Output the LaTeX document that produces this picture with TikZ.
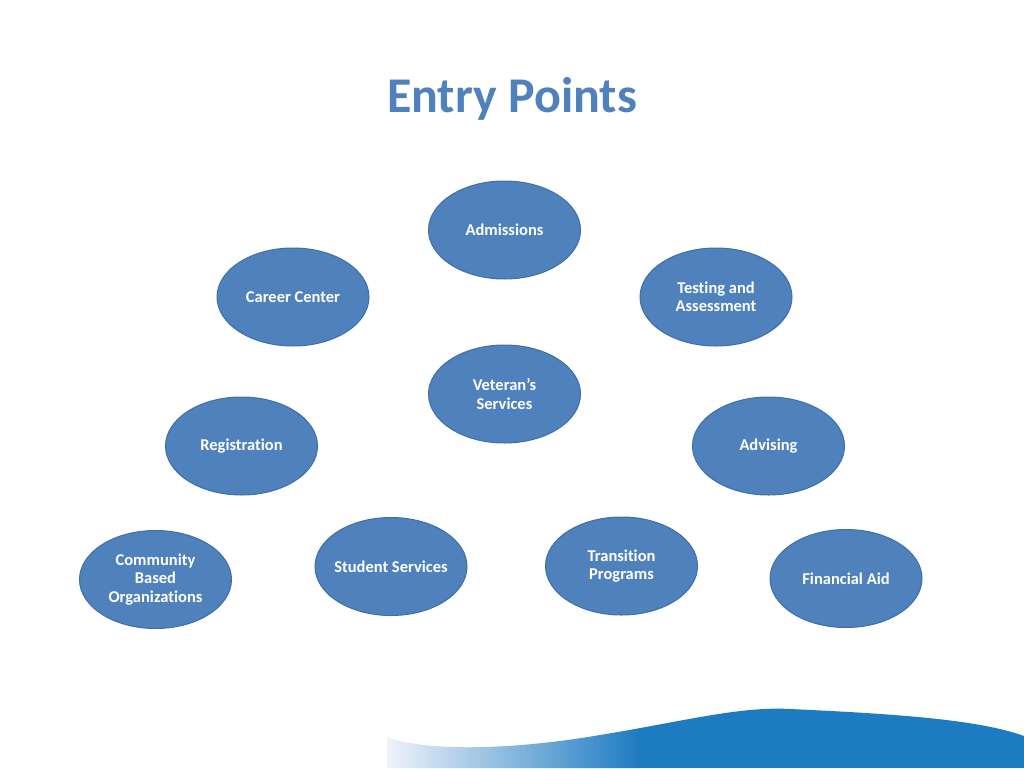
\documentclass[tikz,border=0pt]{standalone}
\usepackage{fontspec}
\setmainfont[Ligatures={NoCommon}]{Carlito}
\usetikzlibrary{shapes.geometric}
\begin{document}
\begin{tikzpicture}[x=1pt,y=-1pt,
  bubble/.style={ellipse, fill=bubblefill, draw=bubbleline, line width=1pt,
    minimum width=152pt, minimum height=98pt, inner xsep=-6pt, inner ysep=0pt,
    text=white, font=\fontsize{16.5}{18.5}\selectfont\bfseries, align=center}]
\definecolor{bubblefill}{HTML}{4F81BD}
\definecolor{bubbleline}{HTML}{3F6FA8}
\definecolor{titleblue}{HTML}{4F81BD}
\definecolor{swoosh}{HTML}{1D7BC1}
\definecolor{swooshlight}{HTML}{EEF2FA}
\useasboundingbox (0,0) rectangle (1024,768);
\fill[white] (0,0) rectangle (1024,768);
% swoosh
\begin{scope}
  \clip (387,737) .. controls (420,750) and (500,752) .. (600,735)
        .. controls (680,722) and (740,706) .. (790,709)
        .. controls (900,714) and (980,720) .. (1024,736)
        -- (1024,768) -- (387,768) -- cycle;
  \shade[left color=swooshlight, right color=swoosh] (387,700) rectangle (640,768);
  \fill[swoosh] (639,700) rectangle (1024,768);
\end{scope}
% title
\node[text=titleblue, font=\fontsize{50}{60}\selectfont\bfseries] (title) at (512,99) {Entry Points};
% bubbles
\node[bubble] (adm) at (504.5,230) {Admissions};
\node[bubble] (career) at (293,297) {Career Center};
\node[bubble] (test) at (716,297) {Testing and\\Assessment};
\node[bubble] (vet) at (504.5,394) {Veteran’s\\Services};
\node[bubble] (reg) at (241.5,446) {Registration};
\node[bubble] (adv) at (768.5,446) {Advising};
\node[bubble] (cbo) at (155.5,579.5) {Community\\Based\\Organizations};
\node[bubble] (stud) at (391,566.5) {Student Services};
\node[bubble] (trans) at (621.5,566) {Transition\\Programs};
\node[bubble] (fin) at (846,578.5) {Financial Aid};
\end{tikzpicture}
\end{document}
